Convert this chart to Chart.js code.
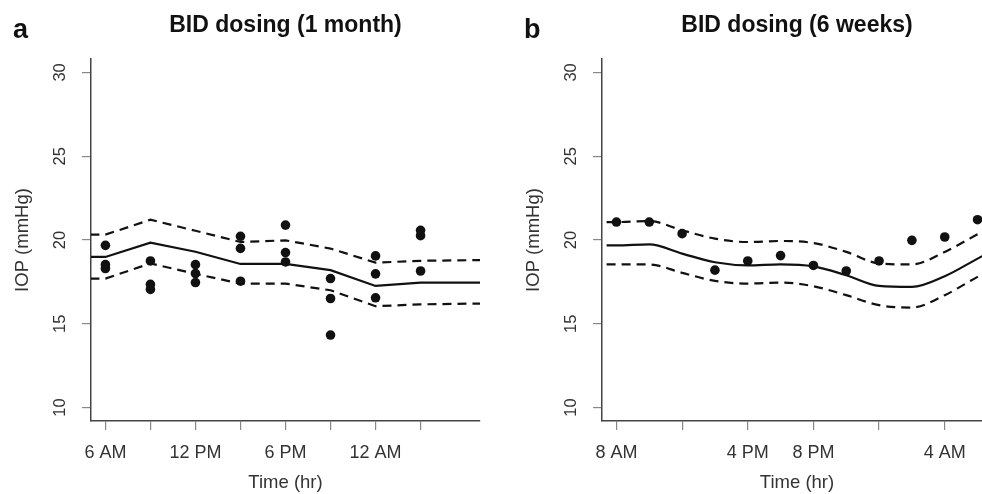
<!DOCTYPE html>
<html>
<head>
<meta charset="utf-8">
<script src="https://cdn.jsdelivr.net/npm/chart.js@4"></script>
<style>
  html, body { margin: 0; padding: 0; background: #fff; overflow: hidden; }
  body { width: 982px; height: 494px; position: relative; }
  canvas { position: absolute; top: 0; }
  #chartA { left: 0; }
  #chartB { left: 511px; }
</style>
</head>
<body>
<canvas id="chartA" width="491" height="494"></canvas>
<canvas id="chartB" width="491" height="494"></canvas>
<script>
// panel a - BID dosing (1 month)
const aTicks = [6, 9, 12, 15, 18, 21, 24, 27];
const aTickLabels = ["6 AM", "", "12 PM", "", "6 PM", "", "12 AM", ""];
const aCurveHours = [5, 6, 9, 12, 15, 18, 21, 24, 27, 31];
const aMean = [18.99, 18.99, 19.84, 19.3, 18.57, 18.57, 18.2, 17.26, 17.46, 17.46];
const aUpper = [20.32, 20.32, 21.21, 20.55, 19.88, 19.98, 19.49, 18.65, 18.76, 18.8];
const aLower = [17.7, 17.7, 18.6, 17.98, 17.4, 17.4, 17.0, 16.05, 16.16, 16.21];
const aObsHours = [6, 6, 6, 9, 9, 9, 12, 12, 12, 15, 15, 15, 18, 18, 18, 21, 21, 21, 24, 24, 24, 27, 27, 27];
const aObs = [19.68, 18.53, 18.3, 18.75, 17.35, 17.05, 18.53, 18.0, 17.46, 20.22, 19.5, 17.54,
              20.89, 19.25, 18.69, 17.7, 16.51, 14.33, 19.05, 17.98, 16.55, 20.58, 20.26, 18.15];

// panel b - BID dosing (6 weeks)
const bTicks = [8, 12, 16, 20, 24, 28];
const bTickLabels = ["8 AM", "", "4 PM", "8 PM", "", "4 AM"];
const bCurveHours = [7.4, 8, 10, 12, 14, 16, 18, 20, 22, 24, 26, 28, 30, 31];
const bMean = [19.68, 19.68, 19.74, 19.19, 18.67, 18.49, 18.55, 18.43, 17.9, 17.26, 17.2, 17.84, 18.89, 19.4];
const bUpper = [21.07, 21.07, 21.13, 20.58, 20.08, 19.88, 19.94, 19.82, 19.29, 18.6, 18.54, 19.29, 20.34, 20.85];
const bLower = [18.54, 18.54, 18.54, 18.04, 17.56, 17.4, 17.46, 17.24, 16.71, 16.11, 15.97, 16.71, 17.8, 18.3];
const bObsHours = [8, 10, 12, 14, 16, 18, 20, 22, 24, 26, 28, 30];
const bObs = [21.07, 21.07, 20.38, 18.2, 18.75, 19.07, 18.48, 18.15, 18.75, 19.98, 20.18, 21.21];

const yTicks = [10, 15, 20, 25, 30];

const FONT = "'Liberation Sans', Arial, Helvetica, sans-serif";
const INK = "#111";

function pts(xs, ys) {
  return xs.map((x, i) => ({ x: x, y: ys[i] }));
}

// letter, title and rotated y tick labels, R style
const panelText = {
  id: "panelText",
  afterDraw(chart, args, opts) {
    const ctx = chart.ctx;
    const area = chart.chartArea;
    const y = chart.scales.y;
    ctx.save();
    ctx.fillStyle = "#111";
    ctx.textBaseline = "alphabetic";
    ctx.textAlign = "left";
    ctx.font = "bold 27px " + FONT;
    ctx.fillText(opts.letter, 13, 37.5);
    ctx.textAlign = "center";
    ctx.font = "bold 23px " + FONT;
    ctx.fillText(opts.title, (area.left + area.right) / 2, 32);
    ctx.fillStyle = "#333";
    ctx.font = "16.5px " + FONT;
    yTicks.forEach(v => {
      ctx.save();
      ctx.translate(65, y.getPixelForValue(v));
      ctx.rotate(-Math.PI / 2);
      ctx.fillText(String(v), 0, 0);
      ctx.restore();
    });
    ctx.restore();
  }
};

function makeChart(id, cfg) {
  const lineBase = { type: "line", pointRadius: 0, borderColor: INK, borderWidth: 2.2, fill: false,
                     cubicInterpolationMode: cfg.smooth ? "monotone" : "default", tension: 0 };
  return new Chart(document.getElementById(id), {
    data: {
      datasets: [
        Object.assign({}, lineBase, { data: pts(cfg.hours, cfg.upper), borderDash: [9, 6] }),
        Object.assign({}, lineBase, { data: pts(cfg.hours, cfg.mean) }),
        Object.assign({}, lineBase, { data: pts(cfg.hours, cfg.lower), borderDash: [9, 6] }),
        { type: "scatter", data: pts(cfg.obsHours, cfg.obs), pointRadius: 4.8,
          pointBackgroundColor: INK, pointBorderWidth: 0 }
      ]
    },
    options: {
      responsive: false,
      animation: false,
      devicePixelRatio: 1,
      layout: { padding: { top: 59, right: cfg.padRight, left: 0, bottom: 0 } },
      plugins: {
        legend: { display: false },
        tooltip: { enabled: false },
        panelText: { letter: cfg.letter, title: cfg.title }
      },
      scales: {
        x: {
          type: "linear",
          min: cfg.xmin,
          max: cfg.xmax,
          afterBuildTicks: s => { s.ticks = cfg.ticks.map(v => ({ value: v })); },
          afterFit: s => { s.height = 73; },
          ticks: {
            autoSkip: false, maxRotation: 0, padding: 12,
            color: "#333", font: { family: FONT, size: 18 },
            callback: (v, i) => cfg.tickLabels[i]
          },
          grid: { drawOnChartArea: false, tickLength: 9, color: "#888", lineWidth: 1.2 },
          border: { color: "#444", width: 1.5 },
          title: { display: true, text: "Time (hr)", color: "#333",
                   font: { family: FONT, size: 18.5 }, padding: { top: 0, bottom: 0 } }
        },
        y: {
          min: 9.2,
          max: 30.8,
          afterBuildTicks: s => { s.ticks = yTicks.map(v => ({ value: v })); },
          afterFit: s => { s.width = 91; },
          ticks: { display: false },
          grid: { drawOnChartArea: false, tickLength: 9, color: "#888", lineWidth: 1.2 },
          border: { color: "#444", width: 1.5 },
          title: { display: true, text: "IOP (mmHg)", color: "#333",
                   font: { family: FONT, size: 18.5 }, padding: { top: 12, bottom: 0 } }
        }
      }
    },
    plugins: [panelText]
  });
}

makeChart("chartA", {
  letter: "a", title: "BID dosing (1 month)", xmin: 5.04, xmax: 30.96, padRight: 11,
  ticks: aTicks, tickLabels: aTickLabels, hours: aCurveHours,
  mean: aMean, upper: aUpper, lower: aLower, obsHours: aObsHours, obs: aObs, smooth: false
});

makeChart("chartB", {
  letter: "b", title: "BID dosing (6 weeks)", xmin: 7.12, xmax: 30.88, padRight: 10,
  ticks: bTicks, tickLabels: bTickLabels, hours: bCurveHours,
  mean: bMean, upper: bUpper, lower: bLower, obsHours: bObsHours, obs: bObs, smooth: true
});
</script>
</body>
</html>
